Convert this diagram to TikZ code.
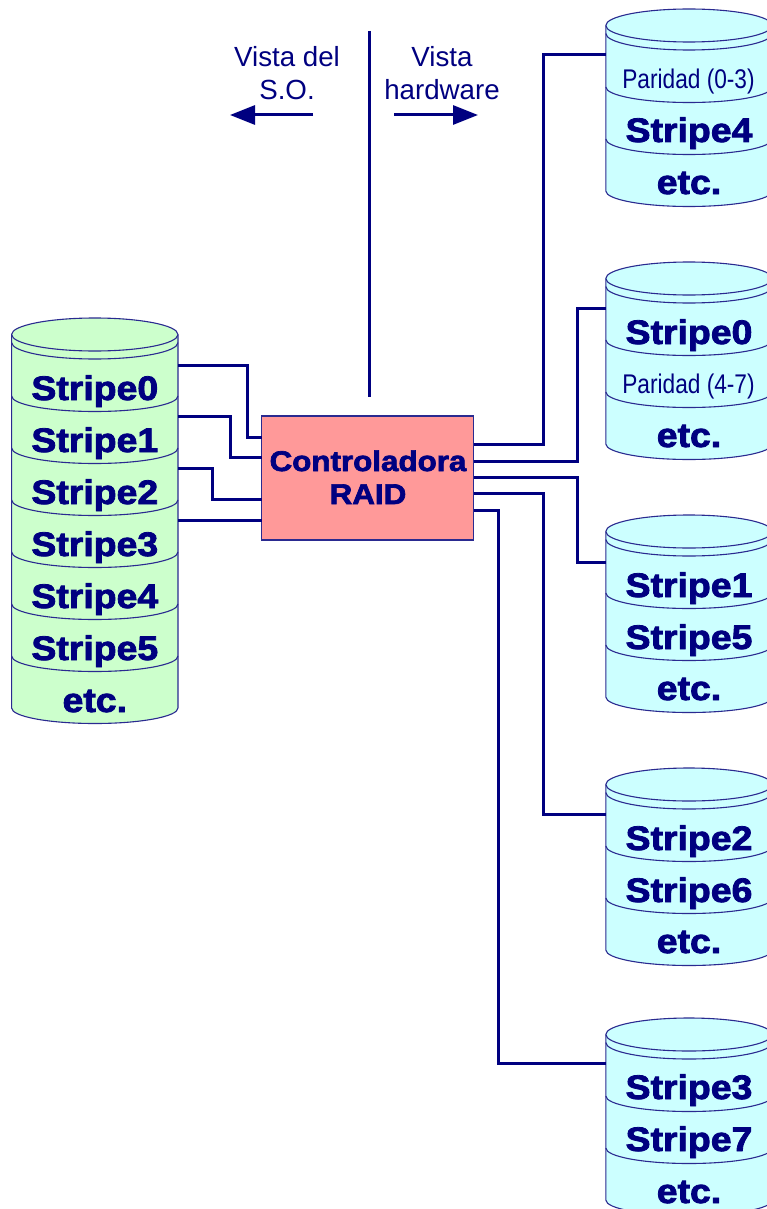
\documentclass[tikz,border=0pt]{standalone}
\usepackage{fontspec}
\setmainfont{Liberation Sans}
\newfontfamily\heavyfont[FakeStretch=1.1,FakeBold=2.4]{Liberation Sans Bold}
\newfontfamily\narrowfont[FakeStretch=0.84]{Liberation Sans}
\usetikzlibrary{arrows.meta}
\definecolor{navyink}{HTML}{000080}
\definecolor{diskedge}{HTML}{2A2A90}
\definecolor{diskgreen}{HTML}{CCFFCC}
\definecolor{diskcyan}{HTML}{CCFFFF}
\definecolor{ctrlpink}{HTML}{FF9999}
\tikzset{
  wire/.style={draw=navyink,line width=3pt,line join=miter},
  diskline/.style={draw=diskedge,line width=1.1pt},
  heavy/.style={anchor=base,text=navyink,inner sep=0pt,font=\heavyfont\fontsize{34}{34}\selectfont},
  ctrltext/.style={anchor=base,text=navyink,inner sep=0pt,font=\heavyfont\fontsize{28.5}{28.5}\selectfont},
  parity/.style={anchor=base,text=navyink,inner sep=0pt,font=\narrowfont\fontsize{27}{27}\selectfont},
  viewtext/.style={anchor=base,text=navyink,inner sep=0pt,font=\fontsize{27.7}{32}\selectfont},
  viewarrow/.style={draw=navyink,line width=3pt,-{Triangle[length=25pt,width=19pt]}},
}
% #1 name, #2 centre x, #3 top y, #4 divider rows, #5 fill
\newcommand{\diskdraw}[5]{%
  \pgfmathsetmacro{\dtop}{#3+16.5}%
  \pgfmathsetmacro{\dbot}{#3+78+52*#4}%
  \pgfmathsetmacro{\dl}{#2-83.2}%
  \pgfmathsetmacro{\dr}{#2+83.2}%
  \pgfmathsetmacro{\dh}{\dbot+15.5-#3}%
  \pgfmathsetmacro{\dm}{#3+\dh/2}%
  \filldraw[diskline,fill=#5] (\dl,\dtop) -- (\dl,\dbot)
     arc[start angle=180,end angle=360,x radius=83.2pt,y radius=15.5pt]
     -- (\dr,\dtop)
     arc[start angle=0,end angle=180,x radius=83.2pt,y radius=16.5pt] -- cycle;
  \draw[diskline] (\dl,\dtop) arc[start angle=180,end angle=360,x radius=83.2pt,y radius=16.5pt];
  \draw[diskline] (\dl,\dtop+8) arc[start angle=180,end angle=360,x radius=83.2pt,y radius=16.5pt];
  \foreach \k in {1,...,#4} {
    \draw[diskline] (\dl,#3+26+52*\k) arc[start angle=180,end angle=360,x radius=83.2pt,y radius=15.5pt];
  }
  \node[minimum width=166.4pt,minimum height=\dh pt,inner sep=0pt,outer sep=0pt] (#1) at (#2,\dm) {};
}
\begin{document}
\begin{tikzpicture}[x=1pt,y=-1pt]
\clip (0,0) rectangle (767,1209);
\fill[white] (0,0) rectangle (767,1209);

% disks
\diskdraw{dso}{94.8}{318}{6}{diskgreen}
\diskdraw{da}{689}{9}{2}{diskcyan}
\diskdraw{db}{689}{262}{2}{diskcyan}
\diskdraw{dc}{689}{515}{2}{diskcyan}
\diskdraw{dd}{689}{768}{2}{diskcyan}
\diskdraw{de}{689}{1018}{2}{diskcyan}

% controller
\node[draw=diskedge,line width=1.1pt,fill=ctrlpink,minimum width=212pt,minimum height=124pt,inner sep=0pt,outer sep=0pt] (ctrl) at (367.5,478) {};
\node[ctrltext] (ctrlA) at (368,471) {Controladora};
\node[ctrltext] (ctrlB) at (368,504) {RAID};

% left disk labels
\node[heavy] (l0) at (94.8,400) {Stripe0};
\node[heavy] (l1) at (94.8,452) {Stripe1};
\node[heavy] (l2) at (94.8,504) {Stripe2};
\node[heavy] (l3) at (94.8,556) {Stripe3};
\node[heavy] (l4) at (94.8,608) {Stripe4};
\node[heavy] (l5) at (94.8,660) {Stripe5};
\node[heavy] (l6) at (94.8,712) {etc.};

% right disk labels
\node[parity] (a0) at (688.5,89) {Paridad (0-3)};
\node[heavy] (a1) at (689,142) {Stripe4};
\node[heavy] (a2) at (689,194) {etc.};
\node[heavy] (b0) at (689,344) {Stripe0};
\node[parity] (b1) at (688.5,393.5) {Paridad (4-7)};
\node[heavy] (b2) at (689,447) {etc.};
\node[heavy] (c0) at (689,597) {Stripe1};
\node[heavy] (c1) at (689,649) {Stripe5};
\node[heavy] (c2) at (689,700) {etc.};
\node[heavy] (d0) at (689,850) {Stripe2};
\node[heavy] (d1) at (689,902) {Stripe6};
\node[heavy] (d2) at (689,953) {etc.};
\node[heavy] (e0) at (689,1099) {Stripe3};
\node[heavy] (e1) at (689,1151) {Stripe7};
\node[heavy] (e2) at (689,1203) {etc.};

% connectors, left
\draw[wire] (dso.east |- 0,365) -| (247,400) |- (ctrl.west |- 0,437);
\draw[wire] (dso.east |- 0,416) -| (230,440) |- (ctrl.west |- 0,457);
\draw[wire] (dso.east |- 0,468) -| (212,485) |- (ctrl.west |- 0,499);
\draw[wire] (dso.east |- 0,520) -- (ctrl.west |- 0,520);

% connectors, right
\draw[wire] (ctrl.east |- 0,444) -| (543,250) |- (da.west |- 0,55);
\draw[wire] (ctrl.east |- 0,461) -| (577,380) |- (db.west |- 0,308);
\draw[wire] (ctrl.east |- 0,477) -| (577,520) |- (dc.west |- 0,562);
\draw[wire] (ctrl.east |- 0,493) -| (543,650) |- (dd.west |- 0,814);
\draw[wire] (ctrl.east |- 0,510) -| (498,800) |- (de.west |- 0,1063);

% view divider
\coordinate (divtop) at (369,31);
\coordinate (divbot) at (369,397);
\draw[draw=navyink,line width=3pt] (divtop) -- (divbot);

% view labels and arrows
\node[viewtext] (vs1) at (287,67) {Vista del};
\node[viewtext] (vs2) at (287,100) {S.O.};
\node[viewtext] (vh1) at (442,67) {Vista};
\node[viewtext] (vh2) at (442,100) {hardware};
\coordinate (las) at (313,115);
\coordinate (lae) at (230,115);
\coordinate (ras) at (394,115);
\coordinate (rae) at (478,115);
\draw[viewarrow] (las) -- (lae);
\draw[viewarrow] (ras) -- (rae);
\end{tikzpicture}
\end{document}
